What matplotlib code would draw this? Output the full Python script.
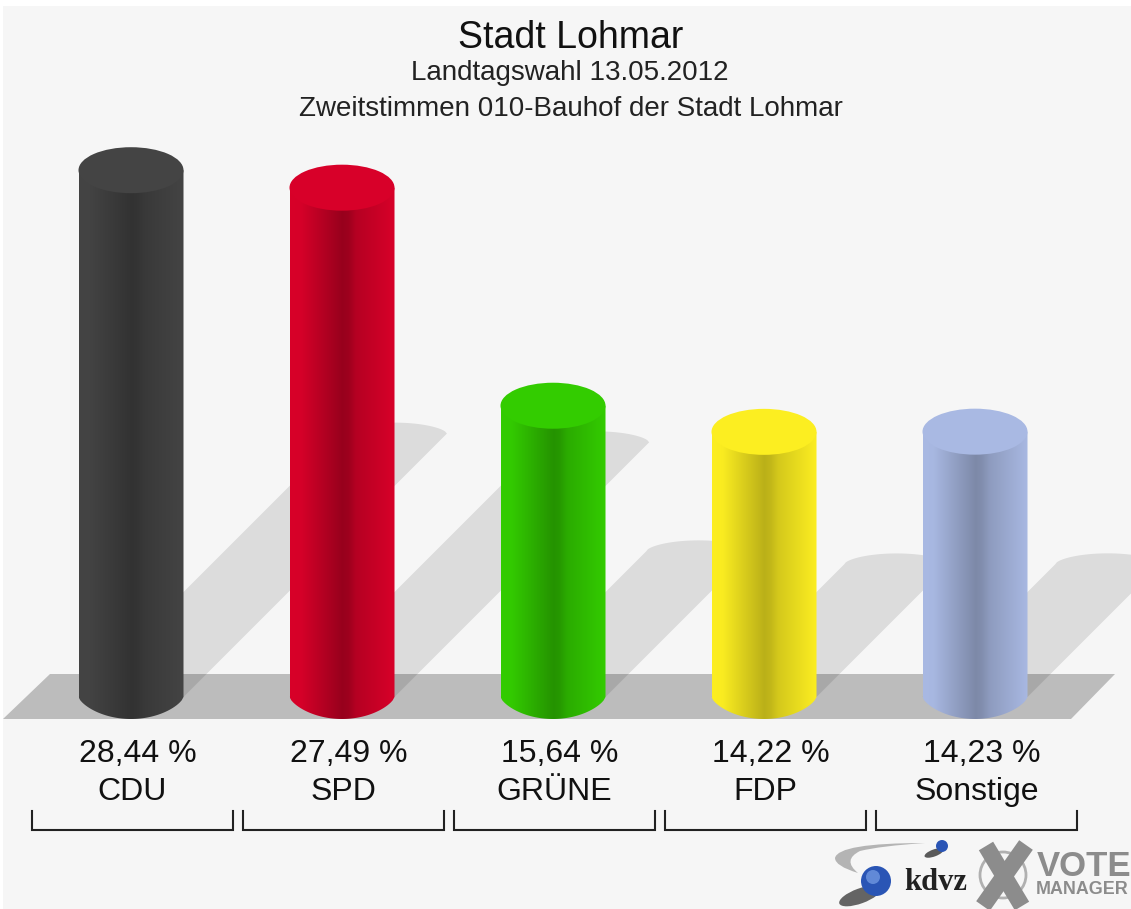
import numpy as np
import matplotlib
matplotlib.use('Agg')
import matplotlib.pyplot as plt
from matplotlib.colors import LinearSegmentedColormap, to_rgb
from matplotlib.patches import Ellipse, Polygon, PathPatch, Circle, Rectangle
from matplotlib.path import Path
from matplotlib.transforms import blended_transform_factory

plt.rcParams['font.family'] = ['Liberation Sans', 'DejaVu Sans']

title = 'Stadt Lohmar'
subtitle1 = 'Landtagswahl 13.05.2012'
subtitle2 = 'Zweitstimmen 010-Bauhof der Stadt Lohmar'
parties = ['CDU', 'SPD', 'GRÜNE', 'FDP', 'Sonstige']
values = [28.44, 27.49, 15.64, 14.22, 14.23]
labels = ['28,44 %', '27,49 %', '15,64 %', '14,22 %', '14,23 %']
colors = ['#444444', '#d80029', '#33cc00', '#fcee21', '#a9b9e3']
dark_factor = [0.74, 0.70, 0.72, 0.74, 0.74]

W, H = 1131, 909
# geometry of the picture, in pixels
x0_px, pitch = 131.0, 211.0
base_px, px_per_pct = 693.5, 18.4
bar_w_px, ell_h_px = 105.0, 46.0

fig = plt.figure(figsize=(W / 100, H / 100), dpi=100, facecolor='white')

# pixel axes for backdrop and furniture
px = fig.add_axes([0, 0, 1, 1], zorder=0)
px.set_xlim(0, W)
px.set_ylim(H, 0)
px.axis('off')
px.add_patch(Rectangle((3, 6), W - 3, H - 6, fc='#f6f6f6', ec='none'))
px.add_patch(Polygon([(50, 674), (1115, 674), (1071, 719), (3, 719)], fc='#bcbcbc', ec='none'))

# data axes: x = category number, y = percent
ax = fig.add_axes([0, 0, 1, 1], zorder=1)
ax.patch.set_alpha(0)
ax.axis('off')
xlim = (-x0_px / pitch, (W - x0_px) / pitch)
ylim = ((base_px - H) / px_per_pct, base_px / px_per_pct)

bw = bar_w_px / pitch
eh = ell_h_px / px_per_pct
foot = 3.5 / px_per_pct  # bars stand a little below the zero line

t = np.linspace(0, 1, 256)
stops_t = [0, 0.10, 0.50, 0.56, 0.63, 1]


def make_cmap(col, dark):
    c = np.array(to_rgb(col))
    f = [1.0, 0.99, dark, dark + 0.03, 0.84, 1.0]
    return LinearSegmentedColormap.from_list('c', [(s, tuple(c * k)) for s, k in zip(stops_t, f)])


u = np.linspace(-1, 1, 60)
for i, v in enumerate(values):
    # shadow thrown up and to the right, half as long as the bar is high
    lift = (v + foot) * 0.5
    shift = lift * px_per_pct / pitch
    tip_x = i + shift + bw / 2 * u
    tip_y = lift - foot + (11 / px_per_pct) * (1 - u ** 2) ** 0.6
    pts = [(i - bw / 2, -foot)] + list(zip(tip_x, tip_y)) + [(i + bw / 2, -foot)]
    ax.add_patch(Polygon(pts, fc='black', alpha=0.1, ec='none', zorder=1))

for i, v in enumerate(values):
    low = list(zip(i + bw / 2 * u, -foot - (22 / px_per_pct) * (1 - u ** 2) ** 0.7))
    verts = [(i - bw / 2, v)] + low + [(i + bw / 2, v), (i - bw / 2, v)]
    body = Path(verts)
    im = ax.imshow(t[None, :], extent=(i - bw / 2, i + bw / 2, -eh, v), aspect='auto',
                   cmap=make_cmap(colors[i], dark_factor[i]), zorder=2, interpolation='bilinear')
    im.set_clip_path(PathPatch(body, transform=ax.transData))
    ax.add_patch(Ellipse((i, v), bw, eh, fc=colors[i], ec='none', zorder=3))

ax.set_xlim(*xlim)
ax.set_ylim(*ylim)

# texts
px.text(571, 38, title, ha='center', va='center', fontsize=27, color='#111111')
px.text(570, 73, subtitle1, ha='center', va='center', fontsize=20, color='#222222')
px.text(571, 109, subtitle2, ha='center', va='center', fontsize=20, color='#222222')

tr = blended_transform_factory(ax.transData, px.transData)
for i in range(len(parties)):
    ax.text(i + 0.03, 754, labels[i], transform=tr, ha='center', va='center', fontsize=23, color='#111111')
    ax.text(i + 0.007, 792, parties[i], transform=tr, ha='center', va='center', fontsize=23, color='#111111')
    # bracket under each party
    ax.plot([i - 0.468, i - 0.468, i + 0.484, i + 0.484], [811, 830, 830, 811], transform=tr,
            color='#222222', lw=1.5, solid_joinstyle='miter', zorder=2)

# logos, kdvz
swoosh = Path([(925, 843), (838, 843), (835, 858), (835, 866), (858, 873), (842, 860), (860, 851), (880, 846), (925, 843)],
              [Path.MOVETO] + [Path.CURVE3] * 8)
px.add_patch(PathPatch(swoosh, fc='#b4b4b4', ec='none'))
px.add_patch(Ellipse((860, 896), 44, 15, angle=-20, fc='#333333', ec='none', alpha=0.75))
px.add_patch(Circle((876, 881), 15, fc='#2a55b5', ec='none'))
px.add_patch(Circle((873, 877), 7, fc='#6f97e0', ec='none', alpha=0.8))
px.add_patch(Ellipse((934, 853), 20, 7, angle=-20, fc='#333333', ec='none', alpha=0.8))
px.add_patch(Circle((942, 846), 6, fc='#2a55b5', ec='none'))
px.text(936, 882, 'kdvz', ha='center', va='center', fontsize=22, fontweight='bold',
        family=['Liberation Serif', 'DejaVu Serif'], color='#222222')

# logos, vote manager
px.add_patch(Circle((1003, 875), 23, fc='none', ec='#b0b0b0', lw=2))
px.plot([986, 1022], [846, 906], color='#8c8c8c', lw=12, solid_capstyle='butt')
px.plot([1026, 983], [845, 906], color='#8c8c8c', lw=12, solid_capstyle='butt')
px.text(1037, 866, 'VOTE', ha='left', va='center', fontsize=25, fontweight='bold', color='#8c8c8c')
px.text(1036, 889, 'MANAGER', ha='left', va='center', fontsize=12.9, fontweight='bold', color='#8c8c8c')

plt.savefig('out.png', dpi=100)
